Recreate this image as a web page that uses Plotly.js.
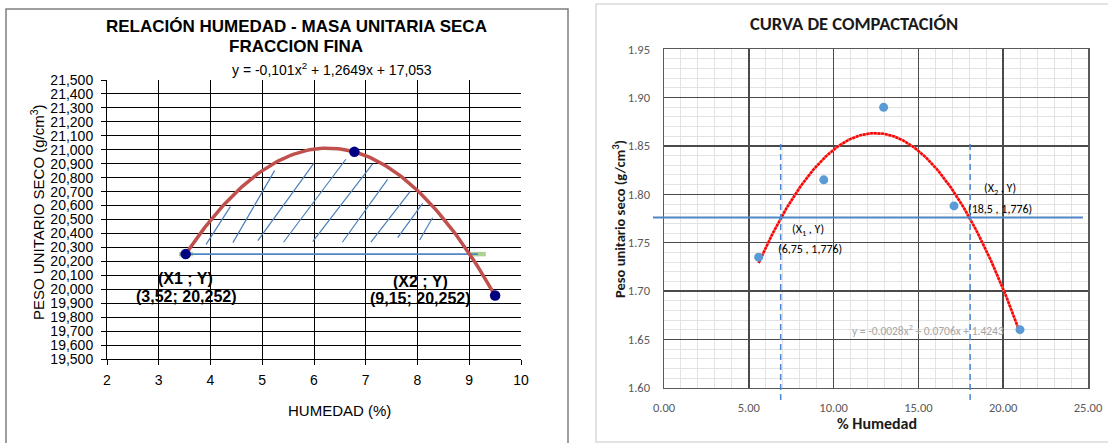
<!DOCTYPE html>
<html><head><meta charset="utf-8">
<script src="https://cdn.plot.ly/plotly-3.0.1.min.js"></script>
<style>html,body{margin:0;padding:0;background:#fff;}#chart{width:1108px;height:443px;}</style>
</head><body><div id="chart"></div>
<script>
// ---------- LEFT CHART DATA ----------
const leftHumedad = [3.52, 6.78, 9.50];
const leftPeso = [20.252, 20.985, 19.955];
const leftXTickVals = [2, 3, 4, 5, 6, 7, 8, 9, 10];
const leftYTickVals = [19.5,19.6,19.7,19.8,19.9,20.0,20.1,20.2,20.3,20.4,20.5,20.6,20.7,20.8,20.9,21.0,21.1,21.2,21.3,21.4,21.5];
const leftYTickText = ['19,500','19,600','19,700','19,800','19,900','20,000','20,100','20,200','20,300','20,400','20,500','20,600','20,700','20,800','20,900','21,000','21,100','21,200','21,300','21,400','21,500'];
const leftCutY = 20.252;
const leftCutLineX = [3.52, 9.17];
const leftGlowLeftX = [3.39, 3.66];
const leftGlowRightX = [9.01, 9.32];
const hatchX0 = [3.915, 4.433, 4.915, 5.411, 5.975, 6.548, 7.100, 7.617, 8.042];
const hatchY0 = [20.322, 20.334, 20.348, 20.337, 20.341, 20.337, 20.337, 20.370, 20.353];
const hatchX1 = [4.384, 5.239, 5.996, 6.616, 7.133, 7.422, 7.856, 8.098, 8.291];
const hatchY1 = [20.592, 20.850, 20.903, 20.932, 20.898, 20.788, 20.699, 20.616, 20.513];

// ---------- RIGHT CHART DATA ----------
const rightHumedad = [5.58, 9.42, 12.95, 17.10, 20.99];
const rightPeso = [1.735, 1.815, 1.890, 1.788, 1.660];
const rightXTickVals = [0, 5, 10, 15, 20, 25];
const rightYTickVals = [1.60, 1.65, 1.70, 1.75, 1.80, 1.85, 1.90, 1.95];
const rightCutY = 1.776;
const rightCutLineX = [-0.65, 24.7];
const rightDashX = [6.88, 18.05];
const rightDashY = [1.852, 1.584];

// ---------- helpers ----------
const W = 1108, H = 443;
const px = v => v / W, py = v => 1 - v / H;
function quadFit(xs, ys) {
  let S = [[0,0,0],[0,0,0],[0,0,0]], T = [0,0,0];
  xs.forEach((x, i) => {
    const p = [1, x, x*x];
    for (let r = 0; r < 3; r++) { T[r] += p[r]*ys[i]; for (let c = 0; c < 3; c++) S[r][c] += p[r]*p[c]; }
  });
  const M = S.map((row, r) => row.concat([T[r]]));
  for (let i = 0; i < 3; i++) {
    let m = i; for (let k = i+1; k < 3; k++) if (Math.abs(M[k][i]) > Math.abs(M[m][i])) m = k;
    [M[i], M[m]] = [M[m], M[i]];
    for (let k = i+1; k < 3; k++) { const f = M[k][i]/M[i][i]; for (let j = i; j < 4; j++) M[k][j] -= f*M[i][j]; }
  }
  const s = [0,0,0];
  for (let i = 2; i >= 0; i--) { let v = M[i][3]; for (let j = i+1; j < 3; j++) v -= M[i][j]*s[j]; s[i] = v/M[i][i]; }
  return s;
}
function trend(xs, ys, n) {
  const c = quadFit(xs, ys);
  const x0 = Math.min(...xs), x1 = Math.max(...xs);
  const X = [], Y = [];
  for (let i = 0; i <= n; i++) { const x = x0 + (x1 - x0)*i/n; X.push(x); Y.push(c[0] + c[1]*x + c[2]*x*x); }
  return {X, Y};
}
const lt = trend(leftHumedad, leftPeso, 120);
const rt = trend(rightHumedad, rightPeso, 160);
const hx = [], hy = [];
hatchX0.forEach((v, i) => { hx.push(v, hatchX1[i], null); hy.push(hatchY0[i], hatchY1[i], null); });

const LF = 'Liberation Sans, Arial, sans-serif';
const RF = 'Carlito, Lato, sans-serif';

const traces = [
  {x: hx, y: hy, xaxis:'x', yaxis:'y', mode:'lines', line:{color:'#4a7ebb', width:1.2}},
  {x: leftGlowLeftX, y: [leftCutY, leftCutY], xaxis:'x', yaxis:'y', mode:'lines', line:{color:'#add391', width:4.5}},
  {x: leftGlowRightX, y: [leftCutY, leftCutY], xaxis:'x', yaxis:'y', mode:'lines', line:{color:'#add391', width:4.5}},
  {x: leftCutLineX, y: [leftCutY, leftCutY], xaxis:'x', yaxis:'y', mode:'lines', line:{color:'#4f86c6', width:1.8}},
  {x: lt.X, y: lt.Y, xaxis:'x', yaxis:'y', mode:'lines', line:{color:'#c0504d', width:3.5}},
  {x: leftHumedad, y: leftPeso, xaxis:'x', yaxis:'y', mode:'markers', marker:{color:'#000080', size:10.5, symbol:'circle'}},
  {x: rt.X, y: rt.Y, xaxis:'x2', yaxis:'y2', mode:'lines', line:{color:'#ee6a6a', width:2.5}},
  {x: rt.X, y: rt.Y, xaxis:'x2', yaxis:'y2', mode:'lines', line:{color:'#ff0000', width:2.5, dash:'2.5px,1.2px'}},
  {x: rightHumedad, y: rightPeso, xaxis:'x2', yaxis:'y2', mode:'markers', marker:{color:'#5b9bd5', size:9}}
];

const r2x = v => (664 + (v - 0) / 25 * 424) / W;
const r2y = v => 1 - (49.3 + (1.95 - v) / 0.35 * 338.4) / H;

const shapes = [
  {type:'rect', xref:'paper', yref:'paper', x0:px(6), x1:px(568), y0:py(460), y1:py(9), line:{color:'#7f7f7f', width:1.5}},
  {type:'rect', xref:'paper', yref:'paper', x0:px(596), x1:px(1120), y0:py(442), y1:py(4), line:{color:'#d9d9d9', width:1.5}},
  {type:'line', xref:'paper', yref:'y2', x0:r2x(rightCutLineX[0]), x1:r2x(rightCutLineX[1]), y0:rightCutY, y1:rightCutY, line:{color:'#4f86c6', width:2}},
  {type:'line', xref:'x2', yref:'paper', x0:rightDashX[0], x1:rightDashX[0], y0:r2y(rightDashY[0]), y1:r2y(rightDashY[1]), line:{color:'#4a86d0', width:1.5, dash:'6px,4px'}},
  {type:'line', xref:'x2', yref:'paper', x0:rightDashX[1], x1:rightDashX[1], y0:r2y(rightDashY[0]), y1:r2y(rightDashY[1]), line:{color:'#4a86d0', width:1.5, dash:'6px,4px'}}
];

function ann(text, x, y, font, extra) {
  return Object.assign({text, x:px(x), y:py(y), xref:'paper', yref:'paper', xanchor:'center', yanchor:'middle', showarrow:false, font}, extra||{});
}
const annotations = [
  ann('<b>RELACIÓN HUMEDAD - MASA UNITARIA SECA</b>', 296, 26, {family:LF, size:17, color:'#000'}),
  ann('<b>FRACCION FINA</b>', 296, 47, {family:LF, size:17, color:'#000'}),
  ann('y = -0,101x<sup>2</sup> + 1,2649x + 17,053', 332, 69, {family:LF, size:14, color:'#000'}),
  ann('PESO UNITARIO SECO (g/cm<sup>3</sup>)', 37, 212, {family:LF, size:15, color:'#000'}, {textangle:-90}),
  ann('HUMEDAD (%)', 339, 410, {family:LF, size:15, color:'#000'}),
  ann('<b>(X1 ; Y)</b>', 185, 278, {family:LF, size:16, color:'#000'}),
  ann('<b>(3,52; 20,252)</b>', 186, 296, {family:LF, size:16, color:'#000'}),
  ann('<b>(X2 ; Y)</b>', 420, 281, {family:LF, size:16, color:'#000'}),
  ann('<b>(9,15; 20,252)</b>', 420, 298, {family:LF, size:16, color:'#000'}),

  ann('<b>CURVA DE COMPACTACIÓN</b>', 854, 23, {family:RF, size:18.5, color:'#1a1a1a'}),
  ann('<b>% Humedad</b>', 877, 423, {family:RF, size:16, color:'#1a1a1a'}),
  ann('<b>Peso unitario seco (g/cm<sup>3</sup>)</b>', 619, 219, {family:RF, size:14.5, color:'#1a1a1a'}, {textangle:-90}),
  ann('(X<sub>1</sub> , Y)', 808, 230, {family:RF, size:12, color:'#000'}),
  ann('(6,75 , 1,776)', 810, 249, {family:RF, size:12, color:'#000'}),
  ann('(X<sub>2</sub> , Y)', 1000, 189, {family:RF, size:12, color:'#000'}),
  ann('(18,5 , 1,776)', 1000, 209, {family:RF, size:12, color:'#000'}),
  ann('y = -0.0028x<sup>2</sup> + 0.0706x + 1.4243', 928, 330, {family:RF, size:11.5, color:'#a6a6a6'})
];

const layout = {
  width: W, height: H, margin:{l:0, r:0, t:0, b:0}, showlegend:false, hovermode:false,
  paper_bgcolor:'#fff', plot_bgcolor:'#fff',
  xaxis: {domain:[px(107), px(521)], range:[2, 10], tickvals:leftXTickVals, ticktext:leftXTickVals.map(String),
    showgrid:true, gridcolor:'#000', gridwidth:1, showline:true, linecolor:'#000', linewidth:1, zeroline:false,
    ticks:'outside', ticklen:5, tickcolor:'#000', ticklabelstandoff:3, tickfont:{family:LF, size:14, color:'#000'}, anchor:'y', fixedrange:true},
  yaxis: {domain:[py(359), py(80)], range:[19.5, 21.5], tickvals:leftYTickVals, ticktext:leftYTickText,
    showgrid:true, gridcolor:'#000', gridwidth:1, showline:true, linecolor:'#000', linewidth:1, zeroline:false,
    ticks:'outside', ticklen:5, tickcolor:'#000', ticklabelstandoff:5, tickfont:{family:LF, size:14, color:'#000'}, anchor:'x', fixedrange:true},
  xaxis2: {domain:[px(664), px(1088)], range:[0, 25], tickvals:rightXTickVals, tickformat:'.2f',
    showgrid:true, gridcolor:'#4a4a4a', gridwidth:1.5, showline:true, mirror:true, linecolor:'#595959', linewidth:1.5, zeroline:false,
    minor:{dtick:1, tick0:0, showgrid:true, gridcolor:'#e3e3e3', gridwidth:1, ticks:''},
    ticks:'', ticklabelstandoff:8, tickfont:{family:RF, size:12.5, color:'#595959'}, anchor:'y2', fixedrange:true},
  yaxis2: {domain:[py(387.7), py(49.3)], range:[1.60, 1.95], tickvals:rightYTickVals, tickformat:'.2f',
    showgrid:true, gridcolor:'#4a4a4a', gridwidth:1.5, showline:true, mirror:true, linecolor:'#595959', linewidth:1.5, zeroline:false,
    minor:{dtick:0.01, tick0:1.6, showgrid:true, gridcolor:'#e3e3e3', gridwidth:1, ticks:''},
    ticks:'', ticklabelstandoff:10, tickfont:{family:RF, size:12.5, color:'#595959'}, anchor:'x2', fixedrange:true},
  shapes, annotations
};

Plotly.newPlot('chart', traces, layout, {staticPlot:true, displayModeBar:false});
</script>
</body></html>
